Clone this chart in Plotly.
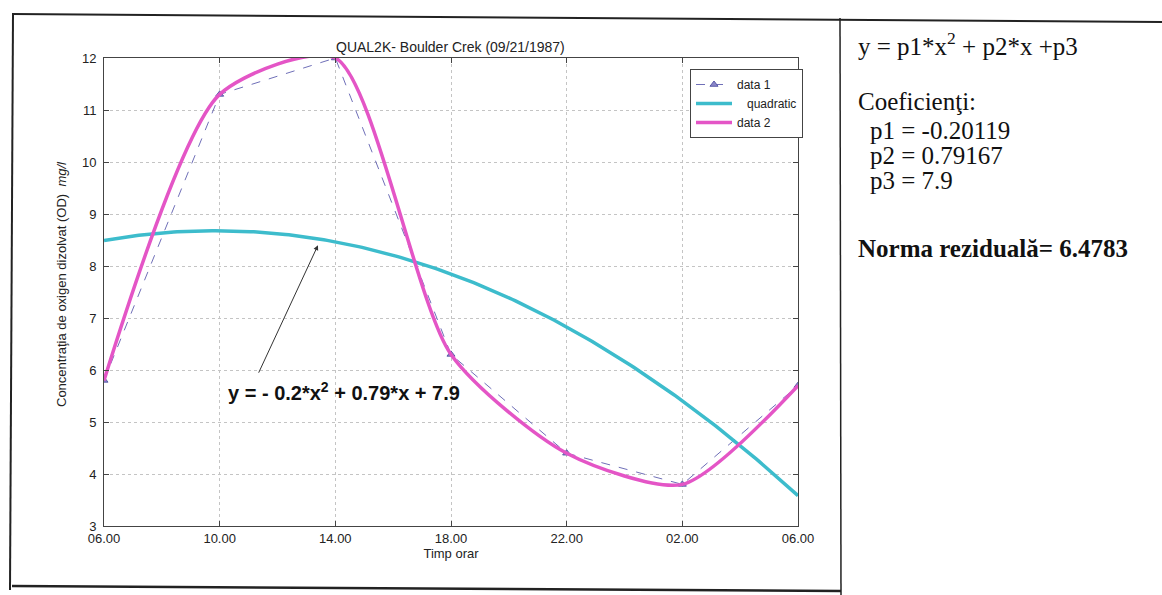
import numpy as np
import plotly.graph_objects as go

# Measured dissolved oxygen, QUAL2K - Boulder Creek, 21 Sept 1987
time_labels = ["06.00", "10.00", "14.00", "18.00", "22.00", "02.00", "06.00"]
x_pos = [1, 2, 3, 4, 5, 6, 7]
od_measured = [5.8, 11.3, 12.0, 6.3, 4.4, 3.8, 5.7]

# Quadratic fit coefficients and residual norm
p1, p2, p3 = -0.20119, 0.79167, 7.9
norma = 6.4783

x_fit = np.linspace(x_pos[0], x_pos[-1], 200)
y_fit = np.polyval([p1, p2, p3], x_fit)

# plot-area edges in pixels, used to place page furniture in paper coordinates
L, R, T, B = 104, 798, 58, 526
W_PX, H_PX = 1162, 595


def px(x):
    return (x - L) / (R - L)


def py(y):
    return (B - y) / (B - T)


SANS = "Liberation Sans"
SERIF = "Liberation Serif"

fig = go.Figure()

fig.add_trace(go.Scatter(
    x=x_pos, y=od_measured, name="data 1", mode="lines+markers",
    line=dict(color="#6f6fb8", width=1, dash="dash"),
    marker=dict(symbol="triangle-up", size=7, color="#8a86c8",
                line=dict(color="#5a5aa8", width=1)),
))
fig.add_trace(go.Scatter(
    x=x_fit, y=y_fit, name="\u00a0\u00a0\u00a0quadratic", mode="lines",
    line=dict(color="#3dbccc", width=3.5),
))
fig.add_trace(go.Scatter(
    x=x_pos, y=od_measured, name="data 2", mode="lines",
    line=dict(color="#e455c6", width=3.5, shape="spline", smoothing=0.7),
))

axis_common = dict(
    showline=True, linecolor="#444", linewidth=1, mirror="ticks",
    ticks="inside", ticklen=5, tickcolor="#444",
    showgrid=True, gridcolor="#c4c4c4", griddash="dot", gridwidth=1,
    zeroline=False, tickfont=dict(family=SANS, size=13, color="#222"),
)

fig.update_xaxes(
    range=[1, 7], tickmode="array", tickvals=x_pos, ticktext=time_labels,
    title=dict(text="Timp orar", font=dict(family=SANS, size=13, color="#222"),
               standoff=2),
    **axis_common,
)
fig.update_yaxes(
    range=[3, 12], dtick=1, ticklabelstandoff=4, **axis_common,
)

annotations = [
    # chart title
    dict(text="QUAL2K- Boulder Crek (09/21/1987)", x=px(450), y=py(47),
         xref="paper", yref="paper", xanchor="center", yanchor="middle",
         showarrow=False, font=dict(family=SANS, size=14, color="#222")),
    # y-axis title
    dict(text="Concentraţia de oxigen dizolvat (OD)  <i>mg/l</i>",
         x=px(61), y=py(284), xref="paper", yref="paper",
         xanchor="center", yanchor="middle", showarrow=False,
         textangle=-90, font=dict(family=SANS, size=13, color="#222")),
    # fitted equation label
    dict(text="<b>y = - 0.2*x<sup>2</sup> + 0.79*x + 7.9</b>",
         x=px(344), y=py(391), xref="paper", yref="paper",
         xanchor="center", yanchor="middle", showarrow=False,
         font=dict(family=SANS, size=20, color="#111")),
    # arrow pointing to the quadratic curve
    dict(text="", x=2.85, y=8.4, xref="x", yref="y", showarrow=True,
         ax=-60, ay=129, arrowhead=2, arrowsize=1, arrowwidth=1,
         arrowcolor="#333"),
]

# coefficient panel on the right
panel = [
    ("y = p1*x<sup>2</sup> + p2*x +p3", 856, 44),
    ("Coeficienţi:", 856, 101),
    ("p1 = -0.20119", 868, 130),
    ("p2 = 0.79167", 868, 155),
    ("p3 = 7.9", 868, 181),
    (f"<b>Norma reziduală= {norma}</b>", 856, 248),
]
for text, xx, yy in panel:
    annotations.append(dict(
        text=text, x=px(xx), y=py(yy), xref="paper", yref="paper",
        xanchor="left", yanchor="middle", showarrow=False,
        font=dict(family=SERIF, size=25, color="#111"),
    ))

frame_lines = [
    ((12, 14), (1162, 22), 2),
    ((13, 14), (10, 590), 2),
    ((12, 586), (841, 591), 2.5),
    ((840, 18), (841, 595), 1.5),
]
shapes = []
for (x0, y0), (x1, y1), w in frame_lines:
    shapes.append(dict(type="line", xref="paper", yref="paper",
                       x0=px(x0), y0=py(y0), x1=px(x1), y1=py(y1),
                       line=dict(color="#222", width=w)))

fig.update_layout(
    width=W_PX, height=H_PX,
    margin=dict(l=L, r=W_PX - R, t=T, b=H_PX - B),
    paper_bgcolor="white", plot_bgcolor="white",
    font=dict(family=SANS, color="#222"),
    showlegend=True,
    legend=dict(x=px(690), y=py(69), xanchor="left", yanchor="top",
                bgcolor="white", bordercolor="#444", borderwidth=1,
                font=dict(family=SANS, size=12, color="#222"),
                itemwidth=36, tracegroupgap=0),
    annotations=annotations,
    shapes=shapes,
)

fig.write_html("out.html")
